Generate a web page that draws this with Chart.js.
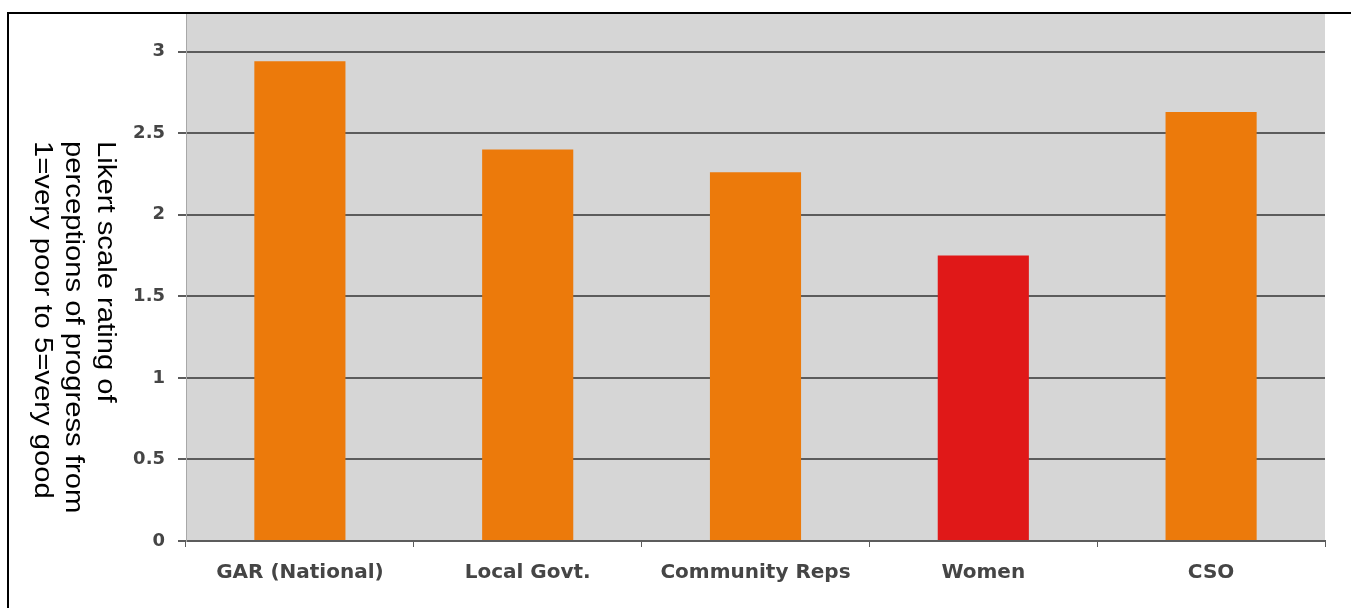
<!DOCTYPE html>
<html>
<head>
<meta charset="utf-8">
<title>Likert scale ratings</title>
<script src="https://cdn.jsdelivr.net/npm/chart.js@4/dist/chart.umd.min.js"></script>
<style>
  html,body{margin:0;padding:0;background:#fff;overflow:hidden}
  #frame{position:absolute;left:7px;top:12px;width:1400px;height:700px;border-left:2px solid #000;border-top:2px solid #000}
  #chart{position:absolute;left:0;top:0}
</style>
</head>
<body>
<div id="frame"></div>
<canvas id="chart" width="1351" height="608"></canvas>
<script>
// ======= Data =======
const categories = ['GAR (National)', 'Local Govt.', 'Community Reps', 'Women', 'CSO'];
const ratings = [2.94, 2.40, 2.26, 1.75, 2.63];
const yTicks = [0, 0.5, 1, 1.5, 2, 2.5, 3];
const yTitleLines = ['Likert scale rating of', 'perceptions of progress from', '1=very poor to 5=very good'];

// Colours
const barColors = ['#ec7a0b', '#ec7a0b', '#ec7a0b', '#e01818', '#ec7a0b'];
const plotBg = '#d6d6d6';
const gridCol = '#5c5c5c';
const fontFam = '"DejaVu Sans", Verdana, sans-serif';

// gray plot background
const plotBackground = {
  id: 'plotBackground',
  beforeDraw(chart){
    const {ctx, chartArea:a} = chart;
    ctx.save();
    ctx.fillStyle = plotBg;
    ctx.fillRect(a.left, a.top, a.right - a.left, a.bottom - a.top);
    ctx.restore();
  }
};

// rotated (clockwise) y axis title, lines top aligned
const yTitle = {
  id: 'yTitle',
  afterDraw(chart){
    const ctx = chart.ctx;
    const baseX = [98, 66, 35];
    ctx.save();
    ctx.fillStyle = '#000';
    ctx.font = '25px "Liberation Sans", Arial, sans-serif';
    ctx.textAlign = 'left';
    ctx.textBaseline = 'alphabetic';
    yTitleLines.forEach((line, i) => {
      ctx.save();
      ctx.translate(baseX[i], 141);
      ctx.rotate(Math.PI / 2);
      ctx.scale(1.17, 1);
      ctx.fillText(line, 0, 0);
      ctx.restore();
    });
    ctx.restore();
  }
};

new Chart(document.getElementById('chart'), {
  type: 'bar',
  data: {
    labels: categories,
    datasets: [{
      data: ratings,
      backgroundColor: barColors,
      borderWidth: 0,
      barPercentage: 0.5,
      categoryPercentage: 0.8
    }]
  },
  options: {
    responsive: false,
    animation: false,
    devicePixelRatio: 1,
    layout: {padding: {left: 0, right: 26, top: 14, bottom: 0}},
    plugins: {legend: {display: false}, tooltip: {enabled: false}},
    scales: {
      x: {
        grid: {display: true, drawOnChartArea: false, drawTicks: true, tickLength: 6, color: gridCol, lineWidth: 1},
        border: {display: true, color: gridCol, width: 2},
        ticks: {font: {family: fontFam, size: 20, weight: 'bold'}, color: '#454545', padding: 14, maxRotation: 0, autoSkip: false},
        afterFit(s){ s.height = 67; s.paddingLeft = 0; s.paddingRight = 0; }
      },
      y: {
        min: 0,
        max: 3.23,
        afterBuildTicks(s){ s.ticks = yTicks.map(v => ({value: v})); },
        grid: {color: gridCol, lineWidth: 2, tickLength: 8, drawTicks: true},
        border: {display: true, color: '#a8a8a8', width: 1},
        ticks: {font: {family: fontFam, size: 18, weight: 'bold'}, color: '#454545', padding: 13, callback: v => String(v)},
        afterFit(s){ s.width = 186; s.paddingTop = 0; s.paddingBottom = 0; }
      }
    }
  },
  plugins: [plotBackground, yTitle]
});
</script>
</body>
</html>
